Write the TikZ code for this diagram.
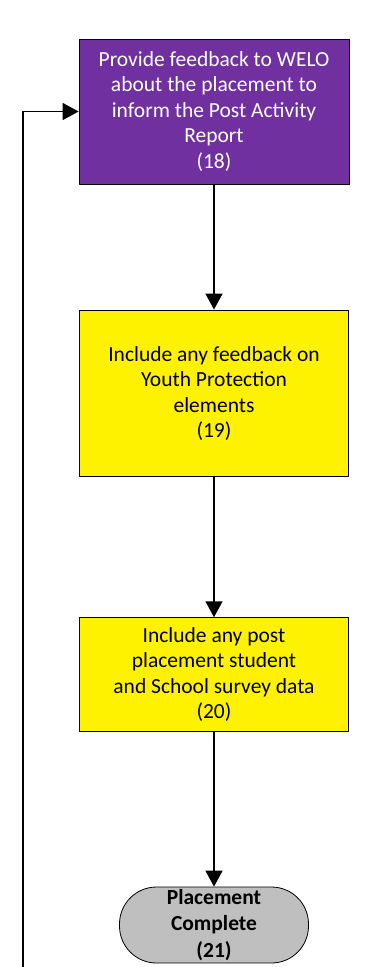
\documentclass[tikz,border=0pt]{standalone}
\usepackage{fontspec}
\setmainfont{Carlito}
\usetikzlibrary{arrows.meta}
\definecolor{welopurple}{HTML}{7030A0}
\definecolor{termgray}{HTML}{BFBFBF}
\tikzset{
	stepbox/.style={draw=black,line width=0.8pt,align=center,inner sep=2pt,font=\fontsize{21.5}{25.5}\selectfont},
	termbox/.style={draw=black,line width=0.8pt,fill=termgray,rounded corners=37pt,align=center,inner sep=0pt,font=\fontsize{21.5}{26.5}\selectfont\bfseries},
	flow/.style={line width=1.5pt,-{Triangle[length=16pt,width=17pt]}}
}
\begin{document}
\begin{tikzpicture}[x=1pt,y=-1pt,line join=round]
				\useasboundingbox (0,0) rectangle (382,967);
				\path 
				(214,111.5) coordinate (P18)
				(214,393.3) coordinate (P19)
				(214,674.3) coordinate (P20)
				(214,925) coordinate (P21)
				(23,967) coordinate (L)
				;
				\node[stepbox,fill=welopurple,text=white,minimum width=270pt,minimum height=145pt] (n18) at (P18) {Provide feedback to WELO\\about the placement to\\inform the Post Activity\\Report\\(18)};
				\node[stepbox,fill=yellow,minimum width=269pt,minimum height=166.7pt] (n19) at (P19) {Include any feedback on\\Youth Protection\\elements\\(19)};
				\node[stepbox,fill=yellow,minimum width=269pt,minimum height=113.3pt] (n20) at (P20) {Include any post\\placement student\\and School survey data\\(20)};
				\node[termbox,minimum width=189pt,minimum height=76pt] (n21) at (P21) {Placement\\Complete\\(21)};
				\draw[flow] (n18)--(n19);
				\draw[flow] (n19)--(n20);
				\draw[flow] (n20)--(n21);
				\draw[flow] (L)|-(n18.west);
			\end{tikzpicture}
\end{document}
